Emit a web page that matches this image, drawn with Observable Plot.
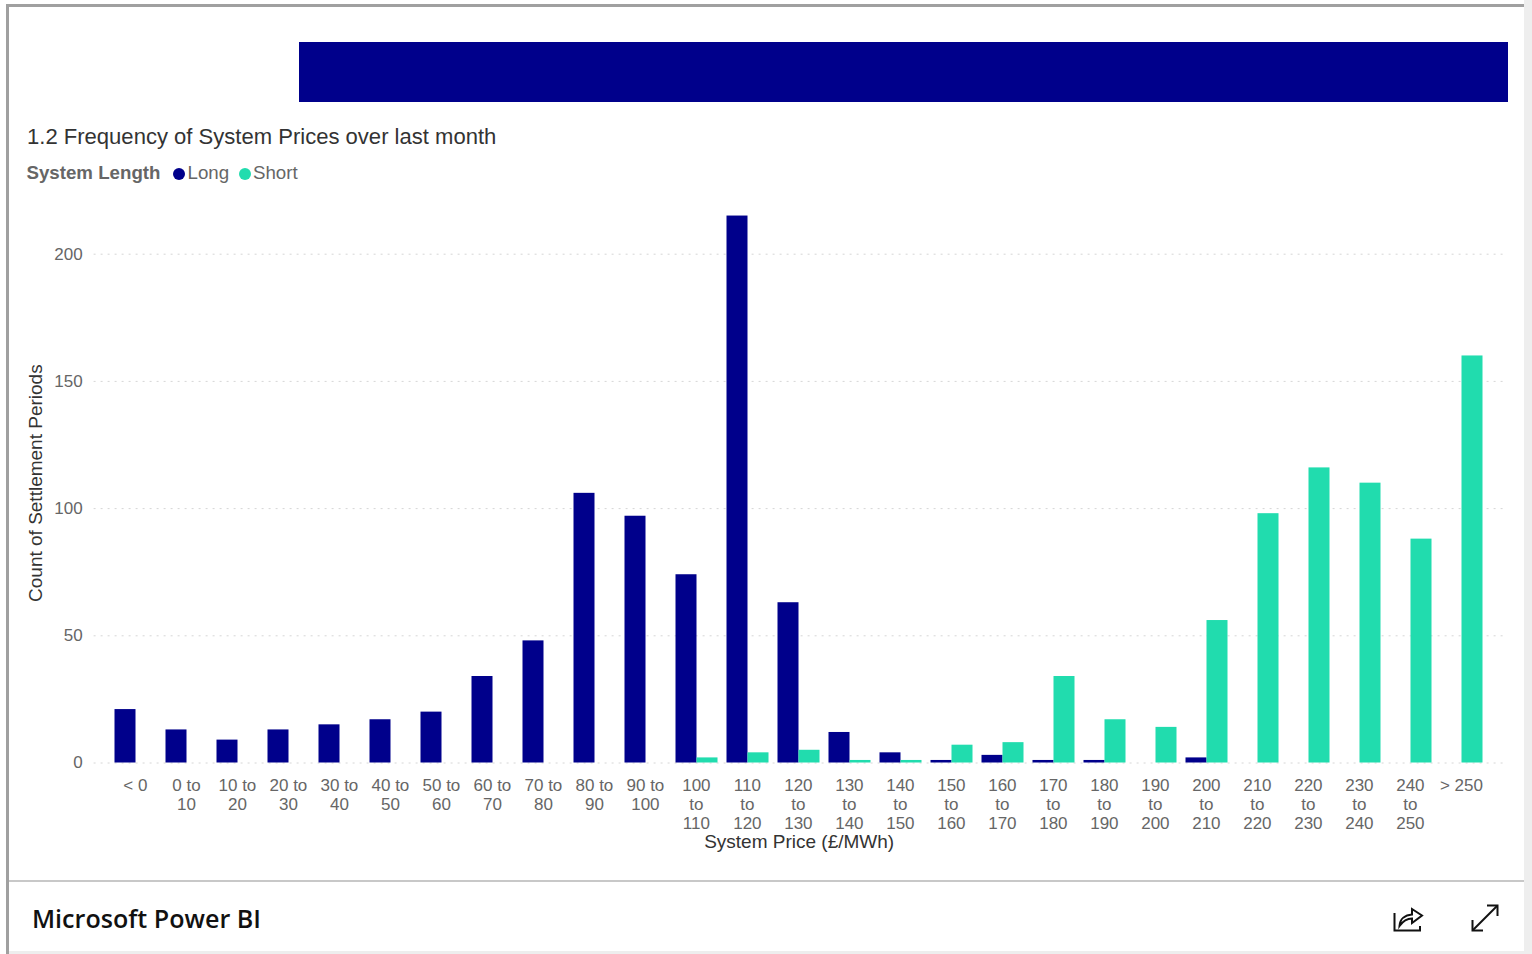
<!DOCTYPE html>
<html>
<head>
<meta charset="utf-8">
<script src="https://cdn.jsdelivr.net/npm/d3@7"></script>
<script src="https://cdn.jsdelivr.net/npm/@observablehq/plot@0.6"></script>
<style>
  html, body { margin: 0; padding: 0; background: #fff; }
  body { width: 1532px; height: 954px; overflow: hidden; position: relative; font-family: "Liberation Sans", Arial, sans-serif; }
  .abs { position: absolute; }
  #chart { position: absolute; left: 0; top: 0; }
  #chart svg { display: block; background: transparent; }
  #chart [aria-label="x-axis label"], #chart [aria-label="y-axis label"] { font-size: 19px; fill: #333; }
  #title { left: 27px; top: 123px; font-size: 22.05px; line-height: 27px; color: #333; white-space: nowrap; }
  #legend { left: 26.500px; top: 161px; font-size: 18.7px; line-height: 24px; color: #666; white-space: nowrap; }
  #legend b { position: absolute; left: 0; top: 0; }
  #legend i { position: absolute; top: 7px; width: 12px; height: 12px; border-radius: 50%; }
  #legend span { position: absolute; top: 0; }
  #brand { left: 32px; top: 900px; font-family: "Open Sans", sans-serif; font-weight: 600; font-size: 25.1px; line-height: 36px; color: #111; white-space: nowrap; }
</style>
</head>
<body>
<div class="abs" style="left:6px;top:4px;width:1519px;height:3px;background:#a0a0a0"></div>
<div class="abs" style="left:6px;top:4px;width:3px;height:950px;background:#a0a0a0"></div>
<div class="abs" style="left:1524px;top:0;width:8px;height:954px;background:#eee"></div>
<div class="abs" style="left:9px;top:951px;width:1523px;height:3px;background:#eee"></div>
<div class="abs" style="left:299px;top:42px;width:1209px;height:60px;background:#00008b"></div>
<div class="abs" id="title">1.2 Frequency of System Prices over last month</div>
<div class="abs" id="legend"></div>
<div id="chart"></div>
<div class="abs" style="left:9px;top:880px;width:1515px;height:2px;background:#c8c8c8"></div>
<div class="abs" id="brand">Microsoft Power BI</div>
<svg class="abs" style="left:1390px;top:900px" width="36" height="36" viewBox="0 0 36 36" fill="none" stroke="#111" stroke-width="2">
  <path d="M4.500 13 V30.500 H30 V26"/>
  <path d="M9.500 26 C10 19 15 15 22 14.500 V9 L32 15.500 L22 23 V18.500 C17 18.500 13 21 9.500 26 Z"/>
</svg>
<svg class="abs" style="left:1468px;top:901px" width="34" height="34" viewBox="0 0 34 34" fill="none" stroke="#111" stroke-width="2">
  <path d="M5 29 L29 5"/>
  <path d="M19 4.500 H29.500 V15"/>
  <path d="M4.500 19 V29.500 H15"/>
</svg>
<script>
const categories = ["< 0","0 to 10","10 to 20","20 to 30","30 to 40","40 to 50","50 to 60","60 to 70","70 to 80","80 to 90","90 to 100","100 to 110","110 to 120","120 to 130","130 to 140","140 to 150","150 to 160","160 to 170","170 to 180","180 to 190","190 to 200","200 to 210","210 to 220","220 to 230","230 to 240","240 to 250","> 250"];
const tickLabels = ["< 0","0 to\n10","10 to\n20","20 to\n30","30 to\n40","40 to\n50","50 to\n60","60 to\n70","70 to\n80","80 to\n90","90 to\n100","100\nto\n110","110\nto\n120","120\nto\n130","130\nto\n140","140\nto\n150","150\nto\n160","160\nto\n170","170\nto\n180","180\nto\n190","190\nto\n200","200\nto\n210","210\nto\n220","220\nto\n230","230\nto\n240","240\nto\n250","> 250"];
const longValues  = [21,13,9,13,15,17,20,34,48,106,97,74,215,63,12,4,1,3,1,1,0,2,0,0,0,0,0];
const shortValues = [0,0,0,0,0,0,0,0,0,0,0,2,4,5,1,1,7,8,34,17,14,56,98,116,110,88,160];
const seriesNames = ["Long","Short"];
const seriesColors = ["#00008b","#21dcae"];
const yTicks = [0,50,100,150,200];

const rows = (values, series) => categories.map((category, i) => ({category, series, value: values[i]})).filter(d => d.value > 0);

const plot = Plot.plot({
  width: 1532,
  height: 870,
  marginLeft: 93.6,
  marginRight: 28.3,
  marginTop: 202.82,
  marginBottom: 107.5,
  style: {fontFamily: '"Liberation Sans", Arial, sans-serif', background: "transparent"},
  x: {domain: categories, padding: 0.589},
  y: {domain: [0, 220]},
  color: {domain: seriesNames, range: seriesColors},
  marks: [
    Plot.ruleY(yTicks, {stroke: "#d6d6d6", strokeWidth: 1, strokeDasharray: "2 5"}),
    Plot.barY(rows(longValues, "Long"), {x: "category", y: "value", fill: "series", dx: -10.5}),
    Plot.barY(rows(shortValues, "Short"), {x: "category", y: "value", fill: "series", dx: 10.5}),
    Plot.axisY({ticks: yTicks, tickSize: 0, tickPadding: 11.5, fontSize: 17, color: "#666", label: "Count of Settlement Periods", labelAnchor: "center", labelArrow: "none", labelOffset: 66}),
    Plot.axisX({tickSize: 0, tickPadding: 14, fontSize: 17, lineHeight: 1.118, dx: -0.6, color: "#666", textOverflow: null, lineWidth: Infinity, tickFormat: (d) => tickLabels[categories.indexOf(d)], label: "System Price (£/MWh)", labelAnchor: "center", labelArrow: "none", labelOffset: 85})
  ]
});
document.getElementById("chart").appendChild(plot);

const legend = document.getElementById("legend");
const b = document.createElement("b"); b.textContent = "System Length"; legend.appendChild(b);
const dotX = [146.500, 212.500], textX = [161, 226.500];
seriesNames.forEach((name, i) => {
  const dot = document.createElement("i");
  dot.style.left = dotX[i] + "px"; dot.style.background = seriesColors[i];
  legend.appendChild(dot);
  const s = document.createElement("span");
  s.style.left = textX[i] + "px"; s.textContent = name;
  legend.appendChild(s);
});
</script>
</body>
</html>
